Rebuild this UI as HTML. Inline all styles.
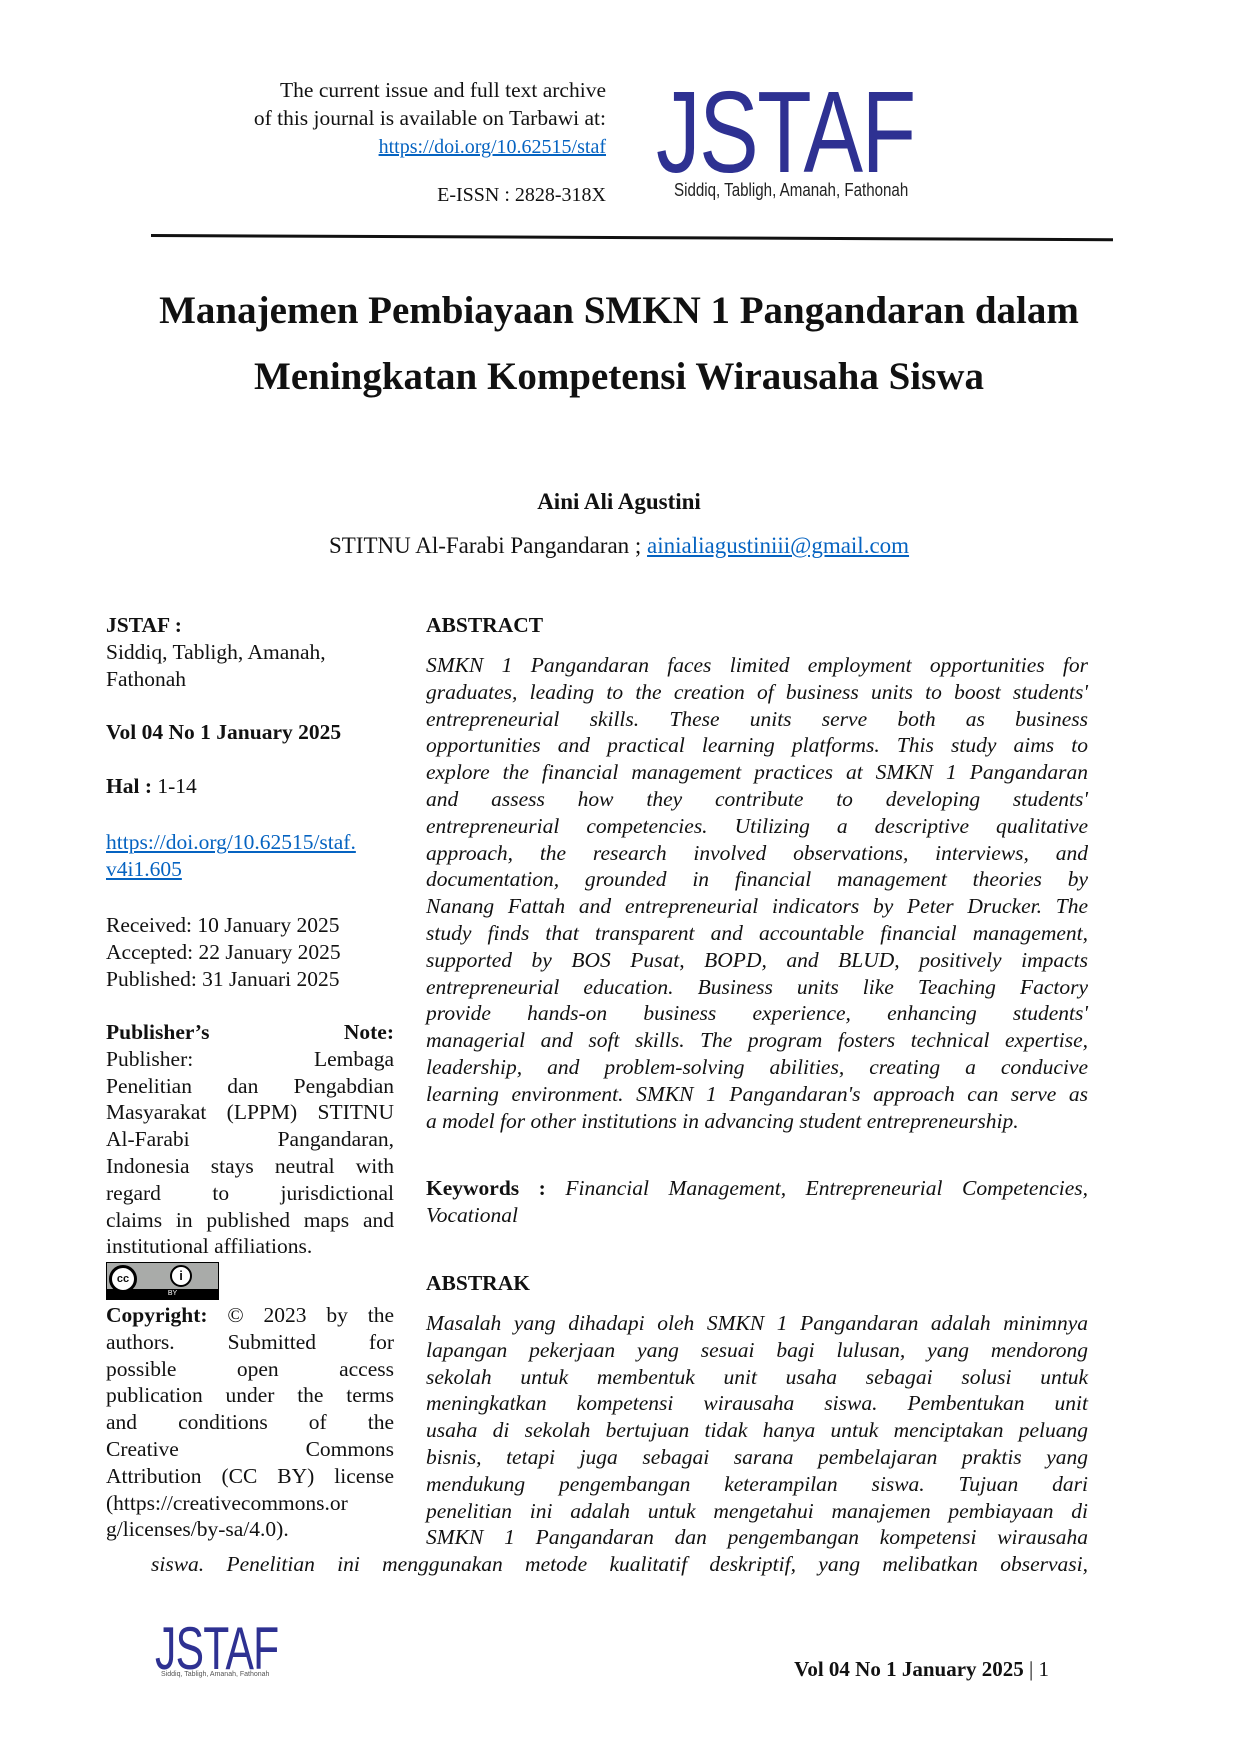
<!DOCTYPE html>
<html><head><meta charset="utf-8"><style>
body{margin:0;background:#fff;}
#p{position:relative;width:1240px;height:1754px;overflow:hidden;font-family:"Liberation Serif",serif;color:#111;}
.a{position:absolute;}
.blk{position:absolute;line-height:26.8px;font-size:21.5px;}
.blk div{text-align:justify;text-align-last:justify;white-space:nowrap;height:26.8px;}
.blk div.e{text-align-last:left;}
.it{font-style:italic;}
a{color:#0563c1;text-decoration:underline;}
b{font-weight:bold;}
</style></head><body><div id="p">
<div class="a" style="right:634px;top:76px;text-align:right;font-size:21.5px;line-height:28px;">The current issue and full text archive<br>of this journal is available on Tarbawi at:</div>
<div class="a" style="right:634px;top:133px;text-align:right;font-size:20px;line-height:28px;"><a>https://doi.org/10.62515/staf</a></div>
<div class="a" style="right:634px;top:184px;font-size:20px;">E-ISSN : 2828-318X</div>
<div class="a" style="left:656px;top:72px;font-family:'Liberation Sans',sans-serif;font-size:116px;line-height:120px;color:#2e3192;transform:scaleX(0.77);transform-origin:left top;letter-spacing:-2px;">JSTAF</div>
<div class="a" style="left:674px;top:180px;font-family:'Liberation Sans',sans-serif;font-size:18px;color:#222;transform:scaleX(0.84);transform-origin:left top;">Siddiq, Tabligh, Amanah, Fathonah</div>
<div class="a" style="left:151px;top:234px;width:962px;height:3px;background:#111;transform:rotate(0.25deg);transform-origin:left;"></div>
<div class="a" style="left:0;width:1238px;top:278px;text-align:center;font-weight:bold;font-size:39px;line-height:66px;">Manajemen Pembiayaan SMKN 1 Pangandaran dalam<br>Meningkatan Kompetensi Wirausaha Siswa</div>
<div class="a" style="left:0;width:1238px;top:489px;text-align:center;font-weight:bold;font-size:23px;">Aini Ali Agustini</div>
<div class="a" style="left:0;width:1238px;top:533px;text-align:center;font-size:23px;">STITNU Al-Farabi Pangandaran ; <a>ainialiagustiniii@gmail.com</a></div>

<div class="blk" style="left:106px;top:612px;width:288px;">
<div class="e"><b>JSTAF :</b></div>
<div class="e">Siddiq, Tabligh, Amanah,</div>
<div class="e">Fathonah</div>
</div>
<div class="blk" style="left:106px;top:719px;"><div class="e"><b>Vol 04 No 1 January 2025</b></div></div>
<div class="blk" style="left:106px;top:773px;"><div class="e"><b>Hal :</b> 1-14</div></div>
<div class="blk" style="left:106px;top:829px;"><div class="e"><a>https://doi.org/10.62515/staf.</a></div><div class="e"><a>v4i1.605</a></div></div>
<div class="blk" style="left:106px;top:912px;"><div class="e">Received: 10 January 2025</div><div class="e">Accepted: 22 January 2025</div><div class="e">Published: 31 Januari 2025</div></div>
<div class="blk" style="left:106px;top:1019px;width:288px;">
<div><b>Publisher’s Note:</b></div>
<div>Publisher: Lembaga</div>
<div>Penelitian dan Pengabdian</div>
<div>Masyarakat (LPPM) STITNU</div>
<div>Al-Farabi Pangandaran,</div>
<div>Indonesia stays neutral with</div>
<div>regard to jurisdictional</div>
<div>claims in published maps and</div>
<div class="e">institutional affiliations.</div>
</div>
<div class="a" style="left:106px;top:1262px;width:113px;height:38px;background:#a9aba9;border:1px solid #000;box-sizing:border-box;">
<div class="a" style="left:0;bottom:0;width:111px;height:10px;background:#000;color:#fff;font:7px 'Liberation Sans',sans-serif;text-align:center;line-height:10px;padding-left:20px;box-sizing:border-box;">BY</div>
<div class="a" style="left:2px;top:2px;width:28px;height:28px;border-radius:50%;background:#fff;border:3px solid #000;box-sizing:border-box;font:bold 11px 'Liberation Sans',sans-serif;text-align:center;line-height:22px;">cc</div>
<div class="a" style="left:63px;top:2px;width:22px;height:22px;border-radius:50%;background:#fff;border:2px solid #000;box-sizing:border-box;font:bold 13px 'Liberation Sans',sans-serif;text-align:center;line-height:18px;">i</div>
</div>
<div class="blk" style="left:106px;top:1302px;width:288px;">
<div><b>Copyright:</b> © 2023 by the</div>
<div>authors. Submitted for</div>
<div>possible open access</div>
<div>publication under the terms</div>
<div>and conditions of the</div>
<div>Creative Commons</div>
<div>Attribution (CC BY) license</div>
<div>(https://creativecommons.or</div>
<div class="e">g/licenses/by-sa/4.0).</div>
</div>

<div class="blk" style="left:426px;top:612px;"><div class="e"><b>ABSTRACT</b></div></div>
<div class="blk it" style="left:426px;top:652px;width:662px;">
<div>SMKN 1 Pangandaran faces limited employment opportunities for</div>
<div>graduates, leading to the creation of business units to boost students'</div>
<div>entrepreneurial skills. These units serve both as business</div>
<div>opportunities and practical learning platforms. This study aims to</div>
<div>explore the financial management practices at SMKN 1 Pangandaran</div>
<div>and assess how they contribute to developing students'</div>
<div>entrepreneurial competencies. Utilizing a descriptive qualitative</div>
<div>approach, the research involved observations, interviews, and</div>
<div>documentation, grounded in financial management theories by</div>
<div>Nanang Fattah and entrepreneurial indicators by Peter Drucker. The</div>
<div>study finds that transparent and accountable financial management,</div>
<div>supported by BOS Pusat, BOPD, and BLUD, positively impacts</div>
<div>entrepreneurial education. Business units like Teaching Factory</div>
<div>provide hands-on business experience, enhancing students'</div>
<div>managerial and soft skills. The program fosters technical expertise,</div>
<div>leadership, and problem-solving abilities, creating a conducive</div>
<div>learning environment. SMKN 1 Pangandaran's approach can serve as</div>
<div class="e">a model for other institutions in advancing student entrepreneurship.</div>
</div>
<div class="blk" style="left:426px;top:1175px;width:662px;">
<div><b style="font-style:normal">Keywords :</b> <i>Financial Management, Entrepreneurial Competencies,</i></div>
<div class="e"><i>Vocational</i></div>
</div>
<div class="blk" style="left:426px;top:1270px;"><div class="e"><b>ABSTRAK</b></div></div>
<div class="blk it" style="left:426px;top:1310px;width:662px;">
<div>Masalah yang dihadapi oleh SMKN 1 Pangandaran adalah minimnya</div>
<div>lapangan pekerjaan yang sesuai bagi lulusan, yang mendorong</div>
<div>sekolah untuk membentuk unit usaha sebagai solusi untuk</div>
<div>meningkatkan kompetensi wirausaha siswa. Pembentukan unit</div>
<div>usaha di sekolah bertujuan tidak hanya untuk menciptakan peluang</div>
<div>bisnis, tetapi juga sebagai sarana pembelajaran praktis yang</div>
<div>mendukung pengembangan keterampilan siswa. Tujuan dari</div>
<div>penelitian ini adalah untuk mengetahui manajemen pembiayaan di</div>
<div>SMKN 1 Pangandaran dan pengembangan kompetensi wirausaha</div>
</div>
<div class="blk it" style="left:151px;top:1551px;width:937px;">
<div>siswa. Penelitian ini menggunakan metode kualitatif deskriptif, yang melibatkan observasi,</div>
</div>

<div class="a" style="left:155px;top:1619px;font-family:'Liberation Sans',sans-serif;font-size:60px;line-height:60px;color:#2e3192;transform:scaleX(0.71);transform-origin:left top;letter-spacing:-1px;">JSTAF</div>
<div class="a" style="left:161px;top:1671px;font-family:'Liberation Sans',sans-serif;font-size:7px;color:#555;">Siddiq, Tabligh, Amanah, Fathonah</div>
<div class="a" style="left:760px;width:289px;top:1657px;text-align:right;font-size:21px;"><b>Vol 04 No 1 January 2025</b> | 1</div>
</div></body></html>
